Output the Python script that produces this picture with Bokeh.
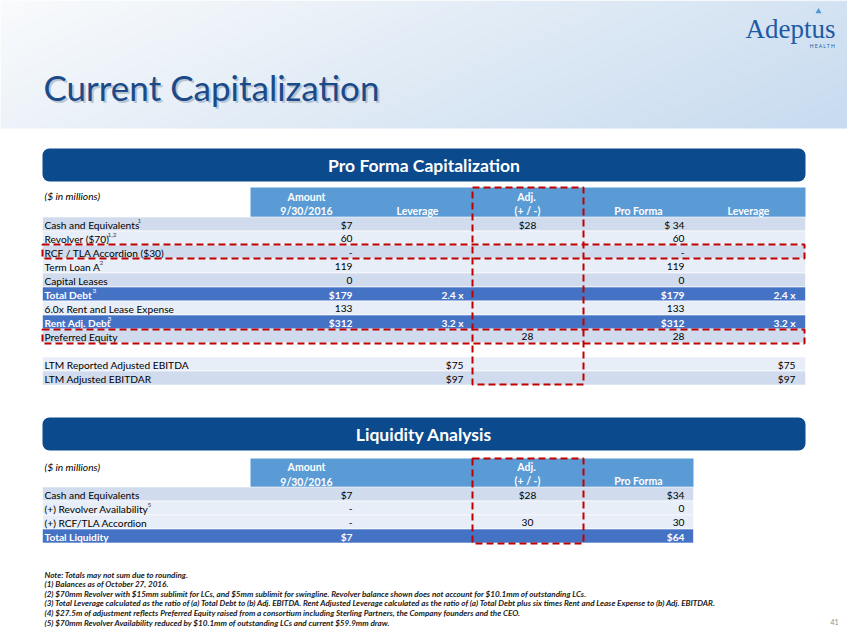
import numpy as np
from bokeh.plotting import figure
from bokeh.models import Range1d, ColumnDataSource
from bokeh.embed import file_html
from bokeh.resources import INLINE
from bokeh.core.properties import value

# ---------------- data ----------------
cap_labels = ["Cash and Equivalents", "Revolver ($70)", "RCF / TLA Accordion ($30)", "Term Loan A",
              "Capital Leases", "Total Debt", "6.0x Rent and Lease Expense", "Rent Adj. Debt",
              "Preferred Equity", "", "LTM Reported Adjusted EBITDA", "LTM Adjusted EBITDAR"]
cap_sup = ["1", "1,2", "", "2", "", "3", "", "3", "", "", "", ""]
cap_amount = ["$7", "60", "-", "119", "0", "$179", "133", "$312", "", "", "", ""]
cap_leverage = ["", "", "", "", "", "2.4 x", "", "3.2 x", "", "", "$75", "$97"]
cap_adj = ["$28", "", "", "", "", "", "", "", "28", "", "", ""]
cap_proforma = ["$ 34", "60", "-", "119", "0", "$179", "133", "$312", "28", "", "", ""]
cap_pf_leverage = ["", "", "", "", "", "2.4 x", "", "3.2 x", "", "", "$75", "$97"]
cap_style = ["A", "B", "A", "B", "A", "T", "B", "T", "A", "W", "B", "A"]

liq_labels = ["Cash and Equivalents", "(+) Revolver Availability", "(+) RCF/TLA Accordion", "Total Liquidity"]
liq_sup = ["", "5", "", ""]
liq_amount = ["$7", "-", "-", "$7"]
liq_adj = ["$28", "", "30", ""]
liq_proforma = ["$34", "0", "30", "$64"]
liq_style = ["A", "B", "B", "T"]

notes = [
    "Note: Totals may not sum due to rounding.",
    "(1) Balances as of October 27, 2016.",
    "(2) $70mm Revolver with $15mm sublimit for LCs, and $5mm sublimit for swingline. Revolver balance shown does not account for $10.1mm of outstanding LCs.",
    "(3) Total Leverage calculated as the ratio of (a) Total Debt to (b) Adj. EBITDA. Rent Adjusted Leverage calculated as the ratio of (a) Total Debt plus six times Rent and Lease Expense to (b) Adj. EBITDAR.",
    "(4) $27.5m of adjustment reflects Preferred Equity raised from a consortium including Sterling Partners, the Company founders and the CEO.",
    "(5) $70mm Revolver Availability reduced by $10.1mm of outstanding LCs and current $59.9mm draw.",
]

# ---------------- styling ----------------
FONT = "Lato"
FS = "10.2px"
COLORS = {"A": "#d0dcee", "B": "#e8eef7", "T": "#4472c4", "W": "#ffffff"}
HDR = "#5b9bd5"
BAR = "#0b4a8c"
RED = "#c00000"
ROW_H = 14
LEFT = 42

p = figure(width=847, height=635, x_range=Range1d(0, 847), y_range=Range1d(635, 0),
           output_backend="svg", toolbar_location=None, min_border=0,
           x_axis_location=None, y_axis_location=None)
p.grid.visible = False
p.outline_line_color = None
p.background_fill_color = "white"
p.border_fill_color = "white"

# header gradient band
gh, gw = 128, 847
xx = np.linspace(0, 1, gw)[None, :]
yy = np.linspace(0, 1, gh)[:, None]
t = np.clip(0.75 * xx + 0.25 * yy - 0.03, 0, 1)
c0 = np.array([248, 250, 252], dtype=float)
c1 = np.array([198, 218, 239], dtype=float)
rgb = c0 + (c1 - c0) * t[..., None]
img = np.zeros((gh, gw), dtype=np.uint32)
view = img.view(dtype=np.uint8).reshape((gh, gw, 4))
view[..., 0] = rgb[..., 0]
view[..., 1] = rgb[..., 1]
view[..., 2] = rgb[..., 2]
view[..., 3] = 255
p.image_rgba(image=[img], x=0, y=0, dw=847, dh=128)

# main title with shadow
p.text(x=[45], y=[88], text=["Current Capitalization"], text_font=value(FONT),
       text_font_size="35px", text_color="#7d8fa6", text_alpha=0.45, text_baseline="middle")
p.text(x=[43], y=[86], text=["Current Capitalization"], text_font=value(FONT),
       text_font_size="35px", text_color="#1b4a88", text_baseline="middle")

# logo
p.text(x=[745], y=[28], text=["Adeptus"], text_font=value("Liberation Serif"),
       text_font_size="27px", text_color="#1d5aa6", text_baseline="middle")
p.text(x=[835], y=[45], text=["H E A L T H"], text_font=value(FONT),
       text_font_size="5px", text_color="#1d5aa6", text_align="right", text_baseline="middle")
p.scatter(x=[818], y=[11], marker="triangle", size=6, fill_color="#4a9ad8", line_color=None)

# page number
p.text(x=[838], y=[621], text=["41"], text_font=value(FONT), text_font_size="7px",
       text_color="#8c8c8c", text_align="right", text_baseline="middle")


def title_bar(top, bottom, label):
    p.quad(left=[LEFT], right=[805], top=[top], bottom=[bottom], fill_color=BAR,
           line_color=None, border_radius=7)
    p.text(x=[423.5], y=[(top + bottom) / 2], text=[label], text_font=value(FONT),
           text_font_size="17.5px", text_font_style="bold", text_color="white",
           text_align="center", text_baseline="middle")


def table(top_hdr, top_rows, right, labels, sups, styles, columns, headers, sup_x):
    # header band
    p.quad(left=[250], right=[right], top=[top_hdr], bottom=[top_rows], fill_color=HDR, line_color=None)
    for (hx, hy, ht) in headers:
        p.text(x=[hx], y=[hy], text=[ht], text_font=value(FONT), text_font_size="10.5px",
               text_font_style="bold", text_color="white", text_align="center", text_baseline="middle")
    n = len(labels)
    tops = [top_rows + i * ROW_H for i in range(n)]
    bots = [tp + ROW_H for tp in tops]
    ys = [tp + ROW_H / 2 + 0.5 for tp in tops]
    fills = [COLORS[s] for s in styles]
    p.quad(left=[LEFT] * n, right=[right] * n, top=tops, bottom=bots, fill_color=fills,
           line_color="white", line_width=0.6)
    tcol = ["white" if s == "T" else "black" for s in styles]
    fst = ["bold" if s == "T" else "normal" for s in styles]

    def txt(xpos, texts, align):
        src = ColumnDataSource(dict(x=[xpos] * n, y=ys, t=texts, c=tcol, f=fst))
        p.text(x="x", y="y", text="t", text_color="c", text_font_style="f", source=src,
               text_font=value(FONT), text_font_size=FS, text_align=align, text_baseline="middle")

    txt(44, labels, "left")
    for (xpos, vals, align) in columns:
        txt(xpos, vals, align)
    # superscripts
    sx, sy, st, sc = [], [], [], []
    for i, s in enumerate(sups):
        if s:
            sx.append(sup_x[i]); sy.append(ys[i] - 4); st.append(s)
            sc.append("white" if styles[i] == "T" else "#444444")
    if st:
        p.text(x=sx, y=sy, text=st, text_color=sc, text_font=value(FONT), text_font_size="6.5px",
               text_baseline="middle")


# ---------- capitalization table ----------
title_bar(148, 181, "Pro Forma Capitalization")
p.text(x=[44], y=[195], text=["($ in millions)"], text_font=value(FONT), text_font_size=FS,
       text_font_style="italic", text_color="black", text_baseline="middle")
cap_sup_x = [137, 107, 0, 99, 0, 92, 0, 107, 0, 0, 0, 0]
table(187, 216.5, 805, cap_labels, cap_sup, cap_style,
      [(352, cap_amount, "right"), (463, cap_leverage, "right"), (527, cap_adj, "center"),
       (684, cap_proforma, "right"), (795, cap_pf_leverage, "right")],
      [(306, 196, "Amount"), (306, 210, "9/30/2016"), (417, 210, "Leverage"),
       (526, 196, "Adj."), (527, 210, "(+ / -)"), (638, 210, "Pro Forma"),
       (748, 210, "Leverage")], cap_sup_x)

box = dict(fill_alpha=0, line_color=RED, line_width=2, line_dash="7 4")
p.quad(left=[472], right=[583], top=[187], bottom=[384], **box)
p.quad(left=[LEFT], right=[804], top=[244], bottom=[258], **box)
p.quad(left=[LEFT], right=[804], top=[329], bottom=[343], **box)

# ---------- liquidity table ----------
title_bar(417, 450, "Liquidity Analysis")
p.text(x=[44], y=[466], text=["($ in millions)"], text_font=value(FONT), text_font_size=FS,
       text_font_style="italic", text_color="black", text_baseline="middle")
liq_sup_x = [0, 147, 0, 0]
table(458, 486.5, 693, liq_labels, liq_sup, liq_style,
      [(352, liq_amount, "right"), (527, liq_adj, "center"), (684, liq_proforma, "right")],
      [(306, 466, "Amount"), (306, 481, "9/30/2016"), (526, 466, "Adj."), (527, 480, "(+ / -)"),
       (638, 480, "Pro Forma")], liq_sup_x)
p.quad(left=[472], right=[583], top=[458], bottom=[543], **box)

# ---------- footnotes ----------
ny = [574 + i * 9.6 for i in range(len(notes))]
p.text(x=[44] * len(notes), y=ny, text=notes, text_font=value(FONT), text_font_size="8.1px",
       text_font_style="bold italic", text_color="#1a1a1a", text_baseline="middle")

open("out.html", "w").write(file_html(p, INLINE))
